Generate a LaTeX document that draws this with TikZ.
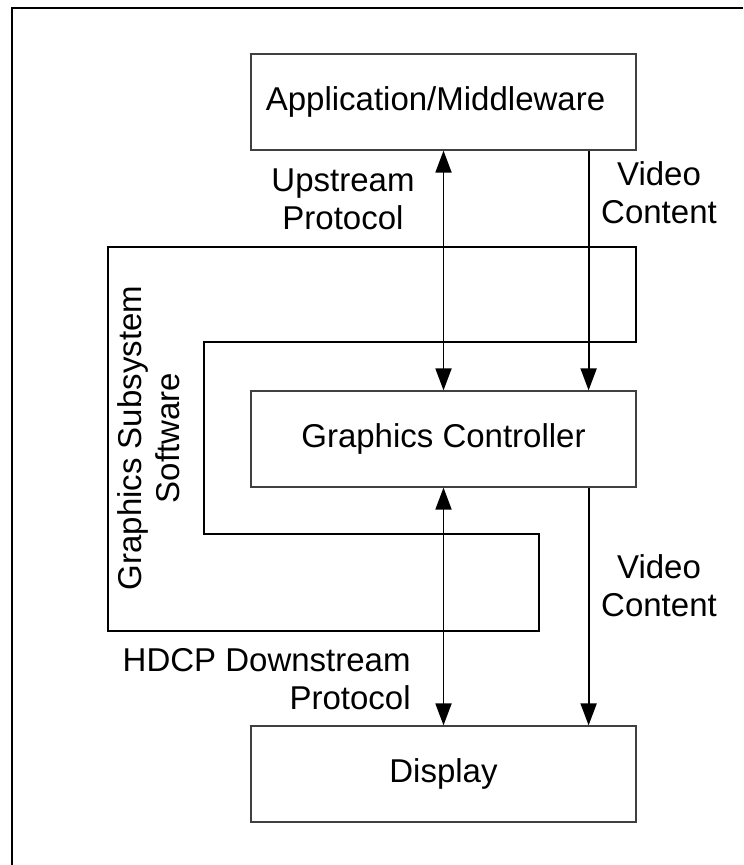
\documentclass[tikz,border=0pt]{standalone}
\usepackage{fontspec}
\setmainfont{Liberation Sans}
\usetikzlibrary{arrows.meta}
\tikzset{
  blockbox/.style={draw=black!75,line width=.6pt,minimum width=192.5pt,minimum height=48pt,inner sep=0pt},
  flow/.style={line width=.9pt,-{Triangle[length=11pt,width=8pt]}},
  duplex/.style={line width=.9pt,{Triangle[length=11pt,width=8pt]}-{Triangle[length=11pt,width=8pt]}},
  lbl/.style={align=center,inner sep=0pt}
}
\begin{document}
\begin{tikzpicture}[x=.5pt,y=-.5pt,font=\fontsize{16.5}{19}\selectfont]
\useasboundingbox (0,0) rectangle (743,865);
\draw[line width=1pt] (12,865)--(12,8)--(743,8);
% software around the controller
\draw[line width=.8pt] (108,247)--(636,247)--(636,342)--(204,342)--(204,534)--(539,534)--(539,631)--(108,631)--cycle;
\node[lbl,rotate=90] (sw) at (149,438) {Graphics Subsystem\\Software};
% blocks
\node[blockbox] (app) at (443.5,102) {\hspace*{-8pt}Application/Middleware};
\node[blockbox] (gc) at (443.5,439) {Graphics Controller};
\node[blockbox] (disp) at (443.5,774) {Display};
% connectors
\draw[duplex] (app.south) -- (gc.north);
\draw[flow] ([xshift=-24pt]app.south east) -- ([xshift=-24pt]gc.north east);
\draw[duplex] (gc.south) -- (disp.north);
\draw[flow] ([xshift=-24pt]gc.south east) -- ([xshift=-24pt]disp.north east);
\node[lbl] (up) at (343,199) {Upstream\\Protocol};
\node[lbl] (vc1) at (659,193) {Video\\Content};
\node[lbl] (vc2) at (659,586) {Video\\Content};
\node[lbl,align=right,anchor=east] (hdcp) at (411,679) {HDCP Downstream\\Protocol};
\end{tikzpicture}
\end{document}
